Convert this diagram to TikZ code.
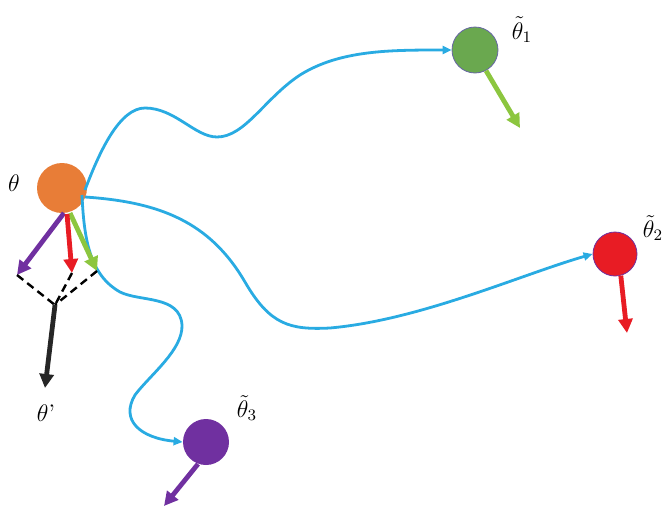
\documentclass[tikz,border=0pt]{standalone}
\usetikzlibrary{arrows.meta}
\definecolor{orangeC}{RGB}{232,125,55}
\definecolor{greenC}{RGB}{106,168,79}
\definecolor{lgreenC}{RGB}{140,198,63}
\definecolor{redC}{RGB}{232,28,36}
\definecolor{purpleC}{RGB}{112,48,160}
\definecolor{blueC}{RGB}{41,171,226}
\tikzset{
  ball/.style={circle, inner sep=0pt, minimum size=#1},
  vec/.style={line width=2.4pt, -{Triangle[length=7pt,width=7pt]}},
  path line/.style={blueC, line width=1.4pt, -{Triangle[length=4.5pt,width=4pt]}},
  lbl/.style={font=\large}
}
\begin{document}
\begin{tikzpicture}[x=0.5pt, y=-0.5pt]
  \useasboundingbox (0,0) rectangle (664,509);

  % Particles
  \node[ball=25pt, fill=orangeC] (th) at (62,188) {};
  \node[ball=23pt, fill=greenC, draw=black!60!blue!60, line width=0.4pt] (t1) at (475,50) {};
  \node[ball=22pt, fill=redC, draw=purpleC, line width=0.4pt] (t2) at (615,254) {};
  \node[ball=23pt, fill=purpleC] (t3) at (206,442) {};

  % Labels
  \node[lbl] (lth) at (14,183) {$\theta$};
  \node[lbl] (lt1) at (522,30) {$\tilde{\theta}_1$};
  \node[lbl] (lt2) at (653,228) {$\tilde{\theta}_2$};
  \node[lbl] (lt3) at (247,408) {$\tilde{\theta}_3$};
  \node[lbl] (lthp) at (46,413) {$\theta$'};

  % Paths
  \coordinate (s1) at (85,190);
  \coordinate (s2) at (85,197);
  \coordinate (s3) at (82,195);
  \draw[path line] (s1) .. controls (100,150) and (120,108) .. (145,108)
    .. controls (175,108) and (195,137) .. (217,137)
    .. controls (245,137) and (265,98) .. (300,75)
    .. controls (340,50) and (390,50) .. (t1.west);
  \draw[path line] (s2) .. controls (160,202) and (210,222) .. (245,282)
    .. controls (270,325) and (290,330) .. (330,328)
    .. controls (420,320) and (520,275) .. (t2.west);
  \draw[path line] (s3) .. controls (84,240) and (90,275) .. (120,292)
    .. controls (140,302) and (180,295) .. (182,325)
    .. controls (183,350) and (150,375) .. (135,395)
    .. controls (120,420) and (140,438) .. (t3.west);

  % Vectors at theta
  \coordinate (vp) at (17,275);
  \coordinate (vr) at (72,273);
  \coordinate (vg) at (97,271);
  \coordinate (sum) at (55,305);
  \coordinate (res) at (45,388);
  \draw[vec, purpleC] (64,213) -- (vp);
  \draw[vec, lgreenC] (70,213) -- (vg);
  \draw[vec, redC] (67,214) -- (vr);
  \draw[black, line width=1.2pt, dash pattern=on 4pt off 2.5pt]
    (vp) -- (sum) (vr) -- (sum) (vg) -- (sum);
  \draw[vec, black!85] (sum) -- (res);

  % Vectors at the new particles
  \coordinate (e1) at (520,128);
  \coordinate (e2) at (627,333);
  \coordinate (e3) at (164,506);
  \draw[vec, lgreenC] (t1.-62) -- (e1);
  \draw[vec, redC] (t2.-75) -- (e2);
  \draw[vec, purpleC] (t3.-110) -- (e3);
\end{tikzpicture}
\end{document}
